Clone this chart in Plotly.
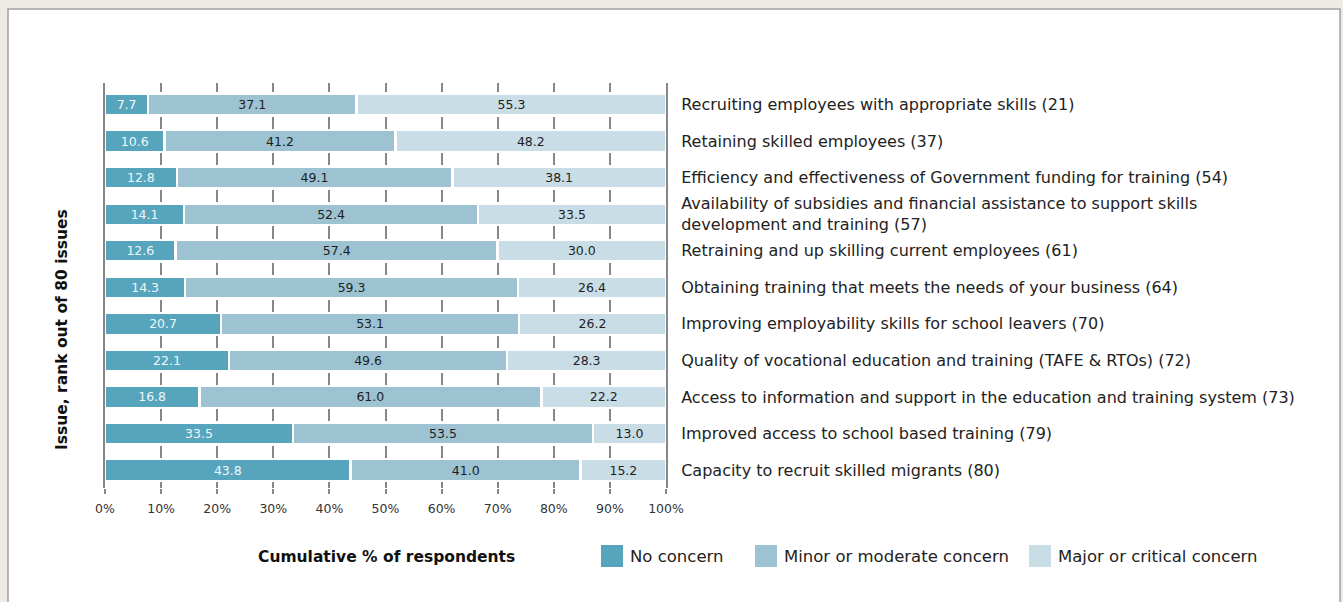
import plotly.graph_objects as go

# Survey issues (rank out of 80 in brackets), top to bottom
issues = [
    "Recruiting employees with appropriate skills (21)",
    "Retaining skilled employees (37)",
    "Efficiency and effectiveness of Government funding for training (54)",
    "Availability of subsidies and financial assistance to support skills<br>development and training (57)",
    "Retraining and up skilling current employees (61)",
    "Obtaining training that meets the needs of your business (64)",
    "Improving employability skills for school leavers (70)",
    "Quality of vocational education and training (TAFE & RTOs) (72)",
    "Access to information and support in the education and training system (73)",
    "Improved access to school based training (79)",
    "Capacity to recruit skilled migrants (80)",
]

no_concern = [7.7, 10.6, 12.8, 14.1, 12.6, 14.3, 20.7, 22.1, 16.8, 33.5, 43.8]
minor_moderate = [37.1, 41.2, 49.1, 52.4, 57.4, 59.3, 53.1, 49.6, 61.0, 53.5, 41.0]
major_critical = [55.3, 48.2, 38.1, 33.5, 30.0, 26.4, 26.2, 28.3, 22.2, 13.0, 15.2]

series_names = ["No concern", "Minor or moderate concern", "Major or critical concern"]
series_values = [no_concern, minor_moderate, major_critical]

x_ticks = [0, 10, 20, 30, 40, 50, 60, 70, 80, 90, 100]
x_tick_labels = [f"{v}%" for v in x_ticks]

colors = ["#57a5bd", "#9dc3d3", "#c9dde6"]
label_colors = ["#eef7fa", "#1e1e1e", "#1e1e1e"]
FONT = "DejaVu Sans"
GRID = "#878787"

W, H = 1343, 602
L, R, T, B = 105, 666, 83, 488


def px_x(px):
    return (px - L) / (R - L)


def px_y(py):
    return (B - py) / (B - T)


fig = go.Figure()
for name, vals, col, tcol in zip(series_names, series_values, colors, label_colors):
    fig.add_trace(go.Bar(
        y=issues, x=vals, orientation="h", name=name,
        marker=dict(color=col, line=dict(color="white", width=2.5)),
        texttemplate="%{x:.1f}", textposition="inside",
        insidetextanchor="middle", textangle=0,
        textfont=dict(family=FONT, size=12.5, color=tcol),
        showlegend=False, hoverinfo="skip",
    ))

shapes = [
    # white card with thin grey border
    dict(type="rect", xref="paper", yref="paper",
         x0=px_x(8), x1=px_x(1340), y0=px_y(640), y1=px_y(9),
         fillcolor="white", line=dict(color="#a3a3a3", width=1.5), layer="below"),
]
annotations = [
    dict(text="<b>Cumulative % of respondents</b>", xref="paper", yref="paper",
         x=px_x(386), y=px_y(557), showarrow=False, xanchor="center", yanchor="middle",
         font=dict(family=FONT, size=15.5, color="#111111")),
    dict(text="<b>Issue, rank out of 80 issues</b>", xref="paper", yref="paper",
         x=px_x(62), y=px_y(330), showarrow=False, textangle=-90,
         xanchor="center", yanchor="middle",
         font=dict(family=FONT, size=15.5, color="#111111")),
]

# legend drawn as swatches with labels
legend_x = [601, 755, 1029]
for lx, name, col in zip(legend_x, series_names, colors):
    shapes.append(dict(type="rect", xref="paper", yref="paper",
                       x0=px_x(lx), x1=px_x(lx + 22), y0=px_y(567), y1=px_y(545),
                       fillcolor=col, line=dict(width=0)))
    annotations.append(dict(text=name, xref="paper", yref="paper",
                            x=px_x(lx + 27), y=px_y(556), showarrow=False,
                            xanchor="left", yanchor="middle",
                            font=dict(family=FONT, size=16.5, color="#222222")))

fig.update_layout(
    width=W, height=H,
    margin=dict(l=L, r=W - R, t=T, b=H - B, pad=0),
    paper_bgcolor="#eeeae6",
    plot_bgcolor="rgba(0,0,0,0)",
    barmode="stack", bargap=0.4,
    uniformtext=dict(minsize=12.5, mode="show"),
    shapes=shapes, annotations=annotations,
    xaxis=dict(
        range=[0, 100], tickvals=x_ticks, ticktext=x_tick_labels,
        showgrid=True, gridcolor=GRID, gridwidth=2,
        zeroline=False, showline=False,
        ticks="outside", ticklen=5, tickwidth=2, tickcolor=GRID,
        ticklabelstandoff=4,
        tickfont=dict(family=FONT, size=12.5, color="#333333"),
        fixedrange=True,
    ),
    yaxis=dict(
        categoryorder="array", categoryarray=issues,
        range=[10.49, -0.59], side="right",
        showgrid=False, zeroline=False,
        showline=True, mirror=True, linecolor=GRID, linewidth=2,
        ticks="",
        ticklabelstandoff=10,
        tickfont=dict(family=FONT, size=16, color="#222222"),
        fixedrange=True,
    ),
)

fig.write_html("out.html")
